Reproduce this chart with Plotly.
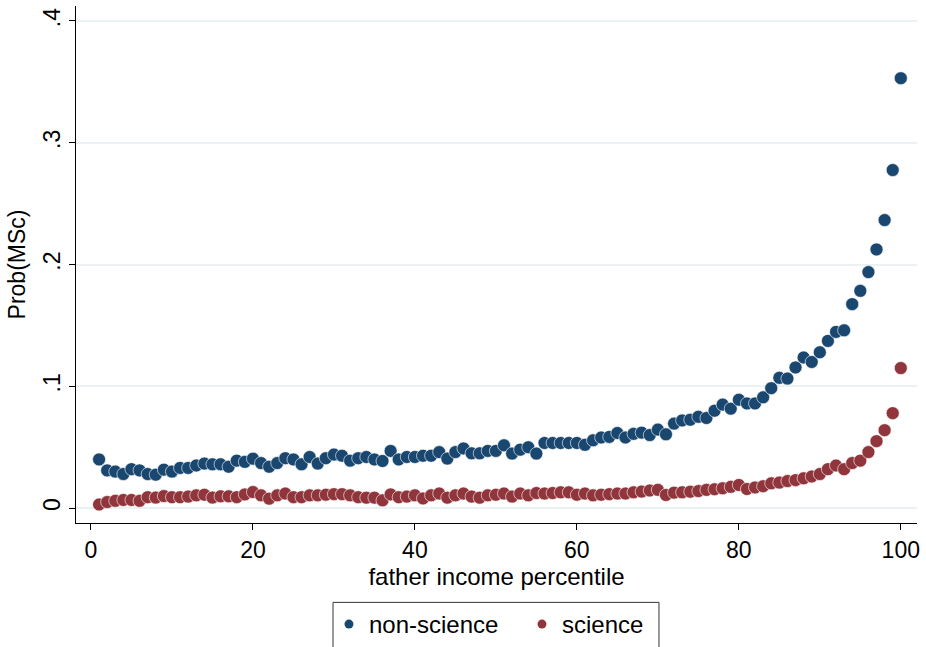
import plotly.graph_objects as go

# Father income percentile (1..100)
percentile = list(range(1, 101))

# Probability of MSc enrolment, non-science track
prob_nonscience = [
    0.040, 0.031, 0.030, 0.028, 0.032, 0.031, 0.028, 0.0275, 0.0316, 0.030,
    0.033, 0.033, 0.035, 0.0366, 0.036, 0.036, 0.034, 0.039, 0.038, 0.0406,
    0.037, 0.034, 0.037, 0.041, 0.040, 0.036, 0.042, 0.0366, 0.041, 0.044,
    0.043, 0.039, 0.041, 0.042, 0.040, 0.0387, 0.047, 0.040, 0.042, 0.042,
    0.043, 0.043, 0.046, 0.0407, 0.046, 0.049, 0.045, 0.045, 0.047, 0.047,
    0.0516, 0.0448, 0.048, 0.050, 0.0448, 0.0535, 0.0535, 0.0535, 0.0535, 0.0535,
    0.052, 0.0557, 0.058, 0.0585, 0.0617, 0.058, 0.061, 0.062, 0.060, 0.0645,
    0.0606, 0.0694, 0.072, 0.0726, 0.075, 0.074, 0.080, 0.085, 0.0817, 0.089,
    0.086, 0.086, 0.091, 0.0985, 0.107, 0.1064, 0.1155, 0.1237, 0.120, 0.128,
    0.1373, 0.1447, 0.146, 0.1675, 0.1784, 0.1938, 0.2124, 0.2365, 0.2776, 0.353,
]

# Probability of MSc enrolment, science track
prob_science = [
    0.003, 0.005, 0.006, 0.0067, 0.0067, 0.006, 0.009, 0.0087, 0.0099, 0.009,
    0.009, 0.0095, 0.0105, 0.011, 0.0087, 0.0097, 0.0097, 0.009, 0.0113, 0.0132,
    0.0105, 0.0078, 0.0105, 0.012, 0.009, 0.009, 0.0105, 0.0105, 0.011, 0.0115,
    0.0115, 0.0105, 0.009, 0.0086, 0.0086, 0.0064, 0.0113, 0.009, 0.0095, 0.0105,
    0.008, 0.0105, 0.012, 0.0086, 0.0105, 0.012, 0.0095, 0.0086, 0.0105, 0.011,
    0.012, 0.0095, 0.012, 0.0105, 0.0124, 0.012, 0.0124, 0.013, 0.013, 0.011,
    0.012, 0.0105, 0.011, 0.0115, 0.012, 0.012, 0.013, 0.0136, 0.0145, 0.015,
    0.0108, 0.0127, 0.013, 0.0135, 0.014, 0.015, 0.0155, 0.0163, 0.0175, 0.019,
    0.0157, 0.017, 0.018, 0.0204, 0.021, 0.0222, 0.023, 0.0245, 0.026, 0.028,
    0.032, 0.035, 0.032, 0.037, 0.039, 0.046, 0.055, 0.064, 0.078, 0.115,
]

y_ticks = [0, 0.1, 0.2, 0.3, 0.4]
y_tick_labels = ["0", ".1", ".2", ".3", ".4"]
x_ticks = [0, 20, 40, 60, 80, 100]

series_names = ["non-science", "science"]
series_colors = ["#1a476f", "#90353b"]
series_values = [prob_nonscience, prob_science]

FONT = "Liberation Sans, Arial, Helvetica, sans-serif"

fig = go.Figure()

for name, color, vals in zip(series_names, series_colors, series_values):
    fig.add_trace(go.Scatter(
        x=percentile, y=vals, mode="markers", name=name, showlegend=False,
        marker=dict(size=13, color=color, line=dict(width=0.6, color="white")),
    ))

# Legend entries with smaller key symbols
for name, color in zip(series_names, series_colors):
    fig.add_trace(go.Scatter(
        x=[None], y=[None], mode="markers", name=name, showlegend=True,
        marker=dict(size=9, color=color),
    ))

fig.update_layout(
    width=926, height=647,
    margin=dict(l=76, r=9, t=6, b=124, autoexpand=False),
    paper_bgcolor="white", plot_bgcolor="white",
    font=dict(family=FONT, size=23, color="black"),
    legend=dict(
        orientation="h", x=0.3008, xanchor="left",
        yref="container", y=1 - 602 / 647, yanchor="top",
        borderwidth=0, bgcolor="rgba(0,0,0,0)", font=dict(size=24),
        itemwidth=30, entrywidth=148, entrywidthmode="pixels",
    ),
    # frame around the legend keys
    shapes=[dict(
        type="rect", xref="paper", yref="paper",
        x0=0.3056, x1=0.6932, y0=-0.1535, y1=-0.2782,
        line=dict(color="#333333", width=1), fillcolor="rgba(0,0,0,0)",
        layer="below",
    )],
)

fig.update_xaxes(
    range=[-1.85, 102], tickvals=x_ticks,
    showline=True, linecolor="black", linewidth=1.3,
    ticks="outside", ticklen=6, tickwidth=1.3, tickcolor="black",
    showgrid=False, zeroline=False, tickfont=dict(size=23),
    title=dict(text="father income percentile", font=dict(size=24), standoff=2),
)

fig.update_yaxes(
    range=[-0.0122, 0.4123], tickvals=y_ticks, ticktext=y_tick_labels,
    tickangle=-90, tickfont=dict(size=23),
    showline=True, linecolor="black", linewidth=1.3,
    ticks="outside", ticklen=6, tickwidth=1.3, tickcolor="black",
    showgrid=True, gridcolor="#eaf2f3", gridwidth=1.5, zeroline=False,
    title=dict(text="Prob(MSc)", font=dict(size=23), standoff=6),
)

fig.write_html("out.html")
